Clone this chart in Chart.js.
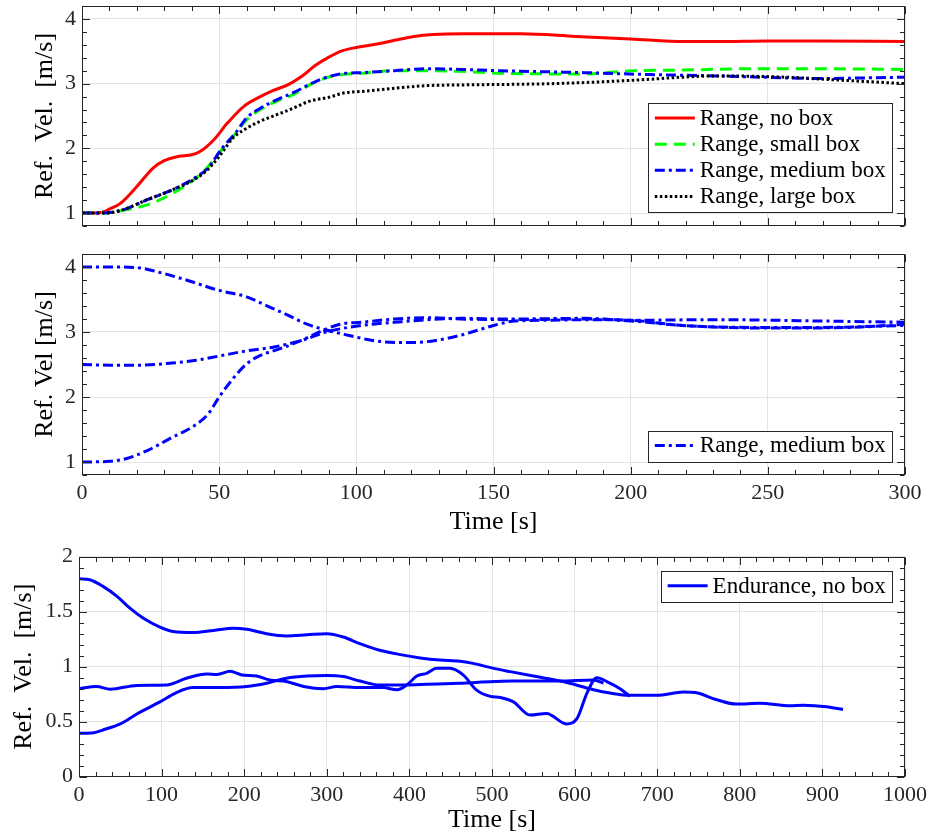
<!DOCTYPE html>
<html><head><meta charset="utf-8">
<script src="https://cdn.jsdelivr.net/npm/chart.js@4.4.1/dist/chart.umd.min.js"></script>
<style>
html,body{margin:0;padding:0;background:#fff;}
#wrap{position:relative;width:930px;height:836px;background:#fff;}
canvas{position:absolute;left:0;}
</style></head><body>
<div id="wrap">
<canvas id="c1" width="930" height="240" style="top:0px"></canvas>
<canvas id="c2" width="930" height="300" style="top:240px"></canvas>
<canvas id="c3" width="930" height="296" style="top:540px"></canvas>
</div>
<script>
// ---------- tick labels ----------
const xTicksRange = [0, 50, 100, 150, 200, 250, 300];
const yTicksRange = [1, 2, 3, 4];
const xTicksEnd = [0, 100, 200, 300, 400, 500, 600, 700, 800, 900, 1000];
const yTicksEnd = [0, 0.5, 1, 1.5, 2];

// ---------- panel 1 ----------
const noBoxT = [0,5,8,10,14,20,26,30,35,40,43,48,53,59,65,70,75,80,85,90,95,100,106,114,121,128,140,150,160,180,200,220,232,250,268,300];
const noBoxV = [1.0,1.0,1.02,1.06,1.15,1.41,1.70,1.81,1.875,1.90,1.95,2.13,2.39,2.65,2.80,2.90,2.98,3.11,3.28,3.41,3.51,3.56,3.60,3.67,3.73,3.76,3.77,3.77,3.77,3.73,3.69,3.65,3.65,3.66,3.66,3.65];

const smallBoxT = [0,8,12,16,24,32,40,45,50,55,60,65,71,77,83,89,95,102,114,126,138,153,183,201,219,243,268,300];
const smallBoxV = [1.0,1.0,1.02,1.05,1.13,1.28,1.49,1.67,1.93,2.18,2.44,2.60,2.73,2.83,2.98,3.09,3.14,3.16,3.20,3.20,3.19,3.16,3.15,3.20,3.21,3.23,3.23,3.22];

const mediumBoxT = [0,8,15,24,33,41,46,51,56,60,65,71,77,84,90,96,102,114,126,138,152,183,207,231,256,268,300];
const mediumBoxV = [1.0,1.0,1.05,1.21,1.36,1.54,1.70,2.00,2.24,2.47,2.62,2.75,2.86,3.01,3.11,3.16,3.17,3.20,3.23,3.22,3.20,3.17,3.14,3.12,3.09,3.08,3.10];

const largeBoxT = [0,8,14,24,33,41,46,51,55,60,65,71,77,83,90,96,102,114,126,138,171,200,219,231,256,274,300];
const largeBoxV = [1.0,1.0,1.04,1.21,1.36,1.52,1.68,1.93,2.16,2.31,2.42,2.52,2.62,2.73,2.79,2.86,2.88,2.93,2.97,2.98,3.00,3.05,3.10,3.12,3.10,3.06,3.00];

// ---------- panel 2 (medium box, three starting speeds) ----------
const medStart4T = [0,10,20,28,38,50,60,67,75,82,89,97,106,114,121,129,138,146,150,158,170,185,200,219,250,268,300];
const medStart4V = [4.0,4.0,3.99,3.92,3.80,3.64,3.54,3.41,3.26,3.12,3.03,2.95,2.87,2.84,2.84,2.87,2.95,3.05,3.10,3.17,3.18,3.19,3.18,3.10,3.07,3.07,3.10];

const medStart25T = [0,10,22,32,41,50,60,70,80,89,97,106,114,126,138,155,183,200,231,268,300];
const medStart25V = [2.5,2.49,2.49,2.52,2.56,2.63,2.71,2.77,2.87,3.00,3.07,3.12,3.15,3.19,3.21,3.20,3.21,3.18,3.19,3.17,3.15];

const medStart1T = [0,10,16,24,32,41,46,50,55,60,65,72,80,87,94,102,114,126,138,155,185,200,219,250,280,300];
const medStart1V = [1.0,1.01,1.05,1.18,1.36,1.56,1.74,2.00,2.28,2.51,2.64,2.74,2.87,3.01,3.12,3.15,3.20,3.22,3.20,3.19,3.20,3.17,3.10,3.06,3.07,3.12];

// ---------- panel 3 (endurance, no box) ----------
const endStart18T = [0,13,29,46,62,78,98,114,138,163,187,203,227,251,276,300,320,340,364,389,413,437,461,477,502,522,550,586,623,643,667,699,732,746,772,796,824,861,877,905,925];
const endStart18V = [1.80,1.79,1.73,1.64,1.53,1.44,1.36,1.32,1.31,1.33,1.35,1.34,1.30,1.28,1.29,1.30,1.27,1.21,1.15,1.11,1.08,1.06,1.05,1.03,0.985,0.955,0.915,0.865,0.79,0.76,0.74,0.74,0.77,0.765,0.70,0.66,0.667,0.645,0.65,0.636,0.61];

const endStart08T = [0,21,38,70,106,130,155,167,183,197,215,231,251,272,296,312,340,368,385,397,409,421,433,449,465,481,498,510,526,546,566,590,603,615,627,639,655,667];
const endStart08V = [0.80,0.82,0.795,0.83,0.834,0.895,0.934,0.93,0.958,0.925,0.915,0.88,0.865,0.82,0.80,0.82,0.81,0.81,0.79,0.835,0.915,0.94,0.985,0.985,0.925,0.79,0.73,0.72,0.68,0.56,0.575,0.48,0.53,0.76,0.90,0.865,0.80,0.73];

const endStart04T = [0,18,29,50,70,98,118,138,171,203,227,251,276,300,320,340,364,397,421,461,502,526,582,623,635];
const endStart04V = [0.395,0.40,0.425,0.48,0.57,0.68,0.765,0.81,0.81,0.82,0.85,0.895,0.915,0.92,0.91,0.87,0.834,0.834,0.84,0.85,0.865,0.87,0.87,0.88,0.85];

// ---------- helpers ----------
const FONT = '"Liberation Serif", "Times New Roman", serif';
const GRID = '#e4e4e4';
const AXC = '#262626';
const pts = (t, v) => t.map((x, i) => ({x: x, y: v[i]}));

const framePlugin = {
  id: 'frame',
  afterDatasetsDraw(chart, args, o) {
    const {ctx, chartArea: a} = chart;
    const xs = chart.scales.x, ys = chart.scales.y;
    ctx.save();
    ctx.strokeStyle = AXC;
    ctx.lineWidth = 1;
    ctx.setLineDash([]);
    const L = Math.round(a.left) + 0.5, R = Math.round(a.right) - 0.5;
    const T = Math.round(a.top) + 0.5, B = Math.round(a.bottom) - 0.5;
    const majX = xs.ticks.map(t => t.value), majY = ys.ticks.map(t => t.value);
    const isMaj = (arr, v) => arr.some(m => Math.abs(m - v) < 1e-9);
    ctx.beginPath();
    const nx = Math.round((xs.max - xs.min) / o.xMinor);
    for (let i = 0; i <= nx; i++) {
      const v = xs.min + i * o.xMinor;
      const len = isMaj(majX, v) ? 7.5 : 4.5;
      const p = Math.round(xs.getPixelForValue(v)) + 0.5;
      ctx.moveTo(p, B); ctx.lineTo(p, B - len);
      ctx.moveTo(p, T); ctx.lineTo(p, T + len);
    }
    const y0 = Math.ceil(ys.min / o.yMinor - 1e-9);
    const y1 = Math.floor(ys.max / o.yMinor + 1e-9);
    for (let i = y0; i <= y1; i++) {
      const v = Math.round(i * o.yMinor * 1e6) / 1e6;
      const len = isMaj(majY, v) ? 7.5 : 4.5;
      const p = Math.round(ys.getPixelForValue(v)) + 0.5;
      ctx.moveTo(L, p); ctx.lineTo(L + len, p);
      ctx.moveTo(R, p); ctx.lineTo(R - len, p);
    }
    ctx.stroke();
    ctx.strokeRect(L, T, R - L, B - T);
    ctx.restore();
  }
};

const legendPlugin = {
  id: 'boxLegend',
  afterDraw(chart, args, o) {
    const {ctx, chartArea: a} = chart;
    const items = chart.data.datasets.filter(d => !d.hideInLegend);
    ctx.save();
    ctx.font = '23px ' + FONT;
    const tw = Math.max(...items.map(d => ctx.measureText(d.label).width));
    const padL = 6.7, sample = 40, gap = 5, padR = 6, rowH = 26.1, padT = 14.8, padB = 15.8;
    const w = padL + sample + gap + tw + padR;
    const h = padT + (items.length - 1) * rowH + padB;
    const right = a.right - 13.3;
    const left = right - w;
    const top = o.corner === 'ne' ? a.top + 14.3 : a.bottom - 13.8 - h;
    ctx.fillStyle = '#fff';
    ctx.fillRect(left, top, w, h);
    ctx.strokeStyle = AXC;
    ctx.lineWidth = 1;
    ctx.strokeRect(Math.round(left) + 0.5, Math.round(top) + 0.5, Math.round(w), Math.round(h));
    items.forEach((d, i) => {
      const cy = top + padT + i * rowH;
      ctx.beginPath();
      ctx.setLineDash(d.borderDash || []);
      ctx.lineCap = 'butt';
      ctx.strokeStyle = d.borderColor;
      ctx.lineWidth = d.borderWidth;
      ctx.moveTo(left + padL, cy);
      ctx.lineTo(left + padL + sample, cy);
      ctx.stroke();
      ctx.setLineDash([]);
      ctx.fillStyle = '#000';
      ctx.textBaseline = 'middle';
      ctx.textAlign = 'left';
      ctx.fillText(d.label, left + padL + sample + gap, cy + 1);
    });
    ctx.restore();
  }
};

function zeroPad(s) { s.paddingLeft = 0; s.paddingRight = 0; s.paddingTop = 0; s.paddingBottom = 0; }

function build(id, c) {
  return new Chart(document.getElementById(id), {
    type: 'line',
    data: {datasets: c.datasets},
    plugins: [framePlugin, legendPlugin],
    options: {
      responsive: false,
      devicePixelRatio: 1,
      animation: false,
      events: [],
      layout: {padding: {top: c.padTop, right: 25, left: 0, bottom: 0}},
      elements: {
        point: {radius: 0, hoverRadius: 0},
        line: {cubicInterpolationMode: 'monotone', borderCapStyle: 'butt', borderJoinStyle: 'round', fill: false}
      },
      plugins: {
        legend: {display: false},
        tooltip: {enabled: false},
        frame: {xMinor: c.xMinor, yMinor: c.yMinor},
        boxLegend: {corner: c.corner}
      },
      scales: {
        x: {
          type: 'linear', min: c.xMin, max: c.xMax,
          afterBuildTicks: s => { s.ticks = c.xTicks.map(v => ({value: v})); },
          afterFit: s => { s.height = c.xHeight; zeroPad(s); },
          grid: {color: GRID, lineWidth: 1, drawTicks: false},
          border: {display: false},
          ticks: {display: c.xLabels, padding: c.xTickPad, autoSkip: false, maxRotation: 0,
                  font: {family: FONT, size: 22}, color: AXC, callback: v => String(v)},
          title: {display: c.xLabels, text: 'Time [s]', color: '#000',
                  font: {family: FONT, size: 26}, padding: {top: 0, bottom: c.xTitlePad}}
        },
        y: {
          type: 'linear', min: c.yMin, max: c.yMax,
          afterBuildTicks: s => { s.ticks = c.yTicks.map(v => ({value: v})); },
          afterFit: s => { s.width = c.yWidth; zeroPad(s); },
          grid: {color: GRID, lineWidth: 1, drawTicks: false},
          border: {display: false},
          ticks: {padding: 6, autoSkip: false, font: {family: FONT, size: 22}, color: AXC,
                  callback: v => String(v)},
          title: {display: true, text: c.yTitle, color: '#000',
                  font: {family: FONT, size: 26}, padding: {top: c.yTitlePad, bottom: 0}}
        }
      }
    }
  });
}

const W = 3;
build('c1', {
  padTop: 6, xHeight: 14, yWidth: 82,
  xMin: 0, xMax: 300, yMin: 0.8, yMax: 4.2,
  xTicks: xTicksRange, yTicks: yTicksRange, xMinor: 10, yMinor: 0.2,
  xLabels: false, xTickPad: 5, xTitlePad: 0,
  yTitle: 'Ref.  Vel.  [m/s]', yTitlePad: 29.4, corner: 'se',
  datasets: [
    {label: 'Range, no box', data: pts(noBoxT, noBoxV), borderColor: '#ff0000', borderWidth: W, order: 4},
    {label: 'Range, small box', data: pts(smallBoxT, smallBoxV), borderColor: '#00ff00', borderWidth: W, borderDash: [12, 7], order: 3},
    {label: 'Range, medium box', data: pts(mediumBoxT, mediumBoxV), borderColor: '#0000ff', borderWidth: W, borderDash: [10, 4, 3, 4], order: 2},
    {label: 'Range, large box', data: pts(largeBoxT, largeBoxV), borderColor: '#000000', borderWidth: W, borderDash: [2.5, 2.5], order: 1}
  ]
});

build('c2', {
  padTop: 14, xHeight: 65, yWidth: 82,
  xMin: 0, xMax: 300, yMin: 0.8, yMax: 4.2,
  xTicks: xTicksRange, yTicks: yTicksRange, xMinor: 10, yMinor: 0.2,
  xLabels: true, xTickPad: 4.6, xTitlePad: 2.4,
  yTitle: 'Ref. Vel [m/s]', yTitlePad: 29.4, corner: 'se',
  datasets: [
    {label: 'Range, medium box', data: pts(medStart1T, medStart1V), borderColor: '#0000ff', borderWidth: W, borderDash: [10, 4, 3, 4], order: 3},
    {label: 'Range, medium box', data: pts(medStart25T, medStart25V), borderColor: '#0000ff', borderWidth: W, borderDash: [10, 4, 3, 4], order: 2, hideInLegend: true},
    {label: 'Range, medium box', data: pts(medStart4T, medStart4V), borderColor: '#0000ff', borderWidth: W, borderDash: [10, 4, 3, 4], order: 1, hideInLegend: true}
  ]
});

build('c3', {
  padTop: 16.7, xHeight: 59.3, yWidth: 79,
  xMin: 0, xMax: 1000, yMin: 0, yMax: 2,
  xTicks: xTicksEnd, yTicks: yTicksEnd, xMinor: 20, yMinor: 0.1,
  xLabels: true, xTickPad: 5.6, xTitlePad: 0.4,
  yTitle: 'Ref.  Vel.  [m/s]', yTitlePad: 9, corner: 'ne',
  datasets: [
    {label: 'Endurance, no box', data: pts(endStart08T, endStart08V), borderColor: '#0000ff', borderWidth: W, order: 3},
    {label: 'Endurance, no box', data: pts(endStart04T, endStart04V), borderColor: '#0000ff', borderWidth: W, order: 2, hideInLegend: true},
    {label: 'Endurance, no box', data: pts(endStart18T, endStart18V), borderColor: '#0000ff', borderWidth: W, order: 1, hideInLegend: true}
  ]
});
</script>
</body></html>
